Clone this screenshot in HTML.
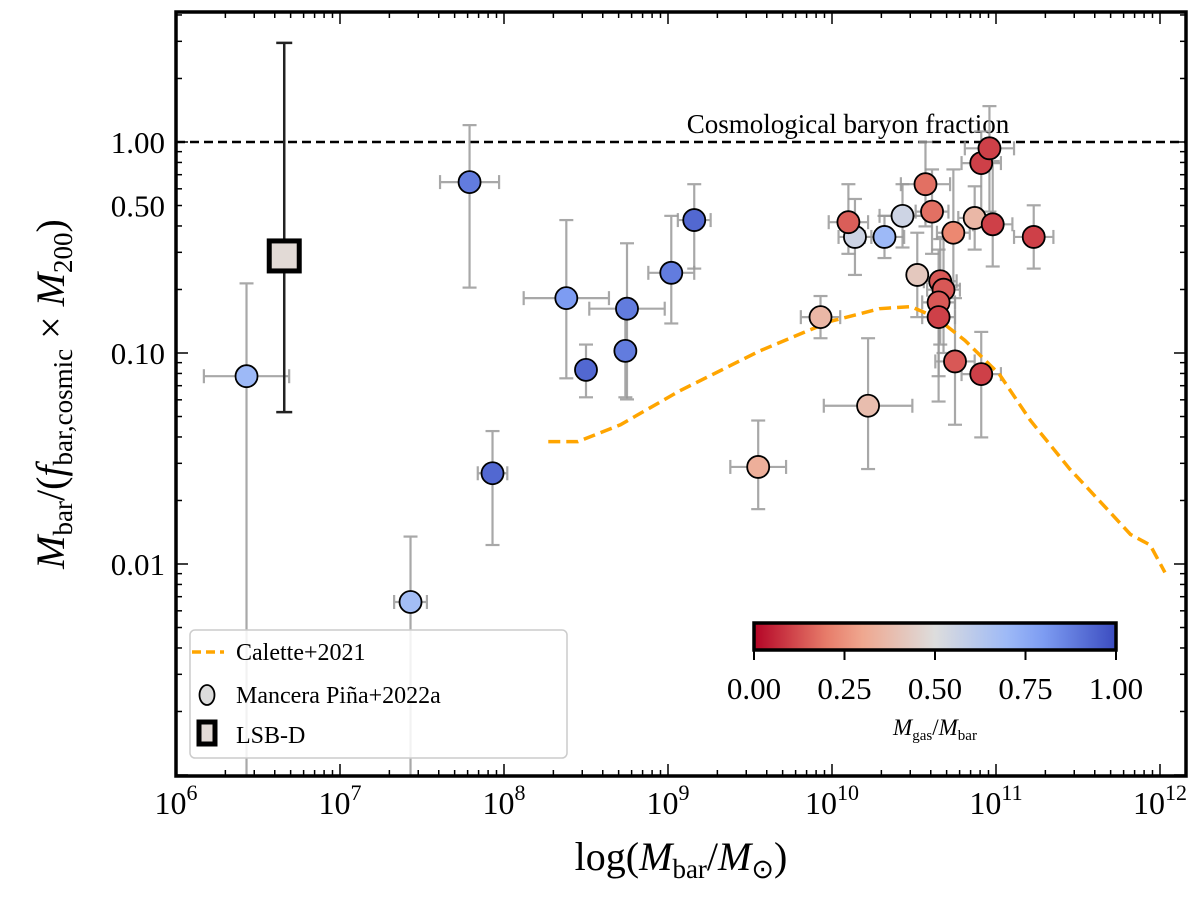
<!DOCTYPE html>
<html><head><meta charset="utf-8"><style>
html,body{margin:0;padding:0;background:#fff;}
svg{display:block;font-family:"Liberation Serif",serif;}
</style></head><body>
<svg id="chart" width="1200" height="904" viewBox="0 0 1200 904">
<g id="grid"></g>
<g id="plot"></g>
<g id="axes"></g>
</svg>
<script>
const logMass = [6.43,7.79,8.38,8.50,8.75,8.74,9.02,9.16,7.93,7.43,9.93,10.22,9.55,10.14,10.32,10.43,10.52,10.87,10.10,10.57,10.61,10.74,10.98,10.91,10.96,11.23,10.66,10.68,10.65,10.65,10.75,10.91];
const logRatio = [-1.11,-0.19,-0.74,-1.08,-0.79,-0.99,-0.62,-0.37,-1.57,-2.18,-0.83,-1.25,-1.54,-0.45,-0.45,-0.35,-0.63,-0.36,-0.38,-0.20,-0.33,-0.43,-0.39,-0.10,-0.03,-0.45,-0.66,-0.70,-0.76,-0.83,-1.04,-1.10];
const gasFrac = [0.7,0.88,0.8,0.93,0.88,0.88,0.88,0.93,0.93,0.68,0.36,0.38,0.33,0.55,0.7,0.55,0.42,0.36,0.15,0.18,0.18,0.22,0.1,0.1,0.1,0.1,0.14,0.14,0.14,0.1,0.14,0.1];
const xErr = [0.26,0.18,0.26,0.0,0.23,0.0,0.14,0.1,0.09,0.1,0.12,0.27,0.17,0.1,0.12,0.14,0.0,0.1,0.12,0.15,0.1,0.1,0.12,0.12,0.15,0.12,0.1,0.1,0.1,0.1,0.12,0.12];
const yErrLo = [2.0,0.5,0.38,0.13,0.43,0.22,0.24,0.23,0.34,0.85,0.10,0.30,0.20,0.18,0.10,0.15,0.2,0.15,0.15,0.2,0.2,0.25,0.2,0.25,0.3,0.15,0.3,0.3,0.35,0.4,0.3,0.3];
const yErrHi = [0.44,0.27,0.37,0.12,0.31,0.17,0.27,0.17,0.20,0.31,0.10,0.32,0.22,0.18,0.10,0.15,0.2,0.15,0.18,0.2,0.2,0.3,0.3,0.15,0.2,0.15,0.2,0.25,0.25,0.2,0.3,0.2];
const lsbMass = 6.66, lsbRatio = -0.54, lsbErrHi = 1.01, lsbErrLo = 0.74, lsbGas = 0.48;
const caletteMass = [8.27,8.45,8.71,9.07,9.56,9.99,10.29,10.48,10.63,10.81,11.02,11.21,11.45,11.63,11.82,11.94,12.03];
const caletteRatio = [-1.42,-1.42,-1.34,-1.18,-0.99,-0.85,-0.79,-0.78,-0.83,-0.94,-1.10,-1.32,-1.55,-1.70,-1.86,-1.91,-2.04];
const xTicks = [6,7,8,9,10,11,12];
const yTickVals = [-2,-1,-0.301,0];
const yTickLabels = ["0.01","0.10","0.50","1.00"];
const cbTicks = [0,0.25,0.5,0.75,1];
const cbTickLabels = ["0.00","0.25","0.50","0.75","1.00"];

const L=176,R=1186,T=12,B=776;
const xs=v=>L+(v-6)*164;
const ys=v=>142-v*211;
const NS="http://www.w3.org/2000/svg";
function mk(tag,attrs,parent,text){const e=document.createElementNS(NS,tag);for(const k in attrs)e.setAttribute(k,attrs[k]);if(text!==undefined)e.textContent=text;(parent||document.getElementById('plot')).appendChild(e);return e;}
function cw(v){const t=1-v;const st=[[59,76,192],[141,176,254],[221,221,221],[244,154,123],[180,4,38]];const p=Math.min(3.999,t*4),i=Math.floor(p),f=p-i;const c=st[i].map((a,j)=>Math.round(a+(st[i+1][j]-a)*f));return `rgb(${c})`;}

const plot=document.getElementById('plot'),axes=document.getElementById('axes');
const clip=mk('clipPath',{id:'cp'},plot);mk('rect',{x:L,y:T,width:R-L,height:B-T},clip);
const g=mk('g',{'clip-path':'url(#cp)'},plot);
let e=mk('line',{x1:L,x2:R,y1:ys(0),y2:ys(0),stroke:'#000','stroke-width':2.5,'stroke-dasharray':'9,5'},g);


e=mk('text',{x:848,y:133,'font-size':27,'text-anchor':'middle'},g,'Cosmological baryon fraction');


logMass.forEach((m,i)=>{
  const eg=mk('g',{stroke:'#999','stroke-width':2.2,opacity:0.85},g);
  
  
  const x=xs(m),y=ys(logRatio[i]);
  if(xErr[i]>0){const x1=xs(m-xErr[i]),x2=xs(m+xErr[i]);mk('line',{x1,x2,y1:y,y2:y},eg);mk('line',{x1,x2:x1,y1:y-7,y2:y+7},eg);mk('line',{x1:x2,x2,y1:y-7,y2:y+7},eg);}
  const y1=ys(logRatio[i]+yErrHi[i]),y2=ys(logRatio[i]-yErrLo[i]);
  mk('line',{x1:x,x2:x,y1,y2},eg);mk('line',{x1:x-7,x2:x+7,y1,y2:y1},eg);mk('line',{x1:x-7,x2:x+7,y1:y2,y2},eg);
});
e=mk('polyline',{points:caletteMass.map((m,i)=>xs(m)+','+ys(caletteRatio[i])).join(' '),fill:'none',stroke:'#ffa500','stroke-width':3.5,'stroke-dasharray':'12,6'},g);


logMass.forEach((m,i)=>{
  const c=mk('circle',{cx:xs(m),cy:ys(logRatio[i]),r:11,fill:cw(gasFrac[i]),stroke:'#000','stroke-width':1.8},g);
  
  
});
const lg=mk('g',{},g);


{const x=xs(lsbMass),y1=ys(lsbRatio+lsbErrHi),y2=ys(lsbRatio-lsbErrLo);
mk('line',{x1:x,x2:x,y1,y2,stroke:'#222','stroke-width':2.5},lg);
mk('line',{x1:x-8,x2:x+8,y1,y2:y1,stroke:'#222','stroke-width':2.5},lg);
mk('line',{x1:x-8,x2:x+8,y1:y2,y2,stroke:'#222','stroke-width':2.5},lg);
mk('rect',{x:x-15,y:ys(lsbRatio)-15,width:30,height:30,fill:'#e2dad6',stroke:'#000','stroke-width':5},lg);}

for(let d=6;d<=12;d++){for(let k=1;k<10;k++){const v=d+Math.log10(k);const x=xs(v);if(x>R)break;const len=k==1?12:6;mk('line',{x1:x,x2:x,y1:B,y2:B-len,stroke:'#000','stroke-width':1.5},axes);mk('line',{x1:x,x2:x,y1:T,y2:T+len,stroke:'#000','stroke-width':1.5},axes);}}
for(let d=-3;d<=0;d++){for(let k=1;k<10;k++){const v=d+Math.log10(k);const y=ys(v);if(y<T)break;const len=k==1?12:6;mk('line',{x1:L,x2:L+len,y1:y,y2:y,stroke:'#000','stroke-width':1.5},axes);mk('line',{x1:R,x2:R-len,y1:y,y2:y,stroke:'#000','stroke-width':1.5},axes);}}
xTicks.forEach(t=>{const tx=mk('text',{x:xs(t),y:814,'font-size':32,'text-anchor':'middle'},axes);


tx.appendChild(document.createTextNode('10'));mk('tspan',{dy:-14,'font-size':22},tx,String(t));});
yTickVals.forEach((t,i)=>{const tx=mk('text',{x:165,y:ys(t)+11,'font-size':31,'text-anchor':'end'},axes,yTickLabels[i]);

});
e=mk('rect',{x:L,y:T,width:R-L,height:B-T,fill:'none',stroke:'#000','stroke-width':3.5},axes);


e=mk('text',{x:681,y:870,'font-size':40,'text-anchor':'middle'},axes);


e.innerHTML='log(<tspan font-style="italic">M</tspan><tspan font-size="27" dy="8">bar</tspan><tspan dy="-8">/</tspan><tspan font-style="italic">M</tspan><tspan font-size="27" dy="8">⊙</tspan><tspan dy="-8">)</tspan>';
e=mk('text',{x:0,y:0,'font-size':40,'text-anchor':'middle',transform:'translate(64,394) rotate(-90)'},axes);


e.innerHTML='<tspan font-style="italic">M</tspan><tspan font-size="27" dy="8">bar</tspan><tspan dy="-8">/(</tspan><tspan font-style="italic">f</tspan><tspan font-size="27" dy="8">bar,cosmic</tspan><tspan dy="-8"> × </tspan><tspan font-style="italic">M</tspan><tspan font-size="27" dy="8">200</tspan><tspan dy="-8">)</tspan>';

const defs=mk('defs',{},axes);const gr=mk('linearGradient',{id:'cb'},defs);
for(let i=0;i<=10;i++)mk('stop',{offset:i/10,'stop-color':cw(i/10)},gr);
e=mk('rect',{x:754,y:623,width:362,height:27,fill:'url(#cb)',stroke:'#000','stroke-width':3.5},axes);


cbTicks.forEach((t,i)=>{const x=754+t*362;mk('line',{x1:x,x2:x,y1:650,y2:660,stroke:'#000','stroke-width':2},axes);
const tx=mk('text',{x,y:699,'font-size':31,'text-anchor':'middle'},axes,cbTickLabels[i]);

});
e=mk('text',{x:935,y:735,'font-size':23,'text-anchor':'middle'},axes);


e.innerHTML='<tspan font-style="italic">M</tspan><tspan font-size="15" dy="5">gas</tspan><tspan dy="-5">/</tspan><tspan font-style="italic">M</tspan><tspan font-size="15" dy="5">bar</tspan>';

const leg=mk('g',{},axes);


mk('rect',{x:190,y:630,width:377,height:128,rx:5,fill:'rgba(255,255,255,0.85)',stroke:'#ccc','stroke-width':1.5},leg);
mk('line',{x1:192,x2:224,y1:652,y2:652,stroke:'#ffa500','stroke-width':3.5,'stroke-dasharray':'9,5'},leg);
mk('text',{x:236,y:660,'font-size':24},leg,'Calette+2021');
mk('ellipse',{cx:207,cy:695,rx:7.5,ry:10,fill:'#dcdcdc',stroke:'#000','stroke-width':1.8},leg);
mk('text',{x:236,y:703,'font-size':24},leg,'Mancera Piña+2022a');
mk('rect',{x:199,y:722,width:16,height:22,fill:'#e2dad6',stroke:'#000','stroke-width':5},leg);
mk('text',{x:236,y:743,'font-size':24},leg,'LSB-D');
</script>
</body></html>
